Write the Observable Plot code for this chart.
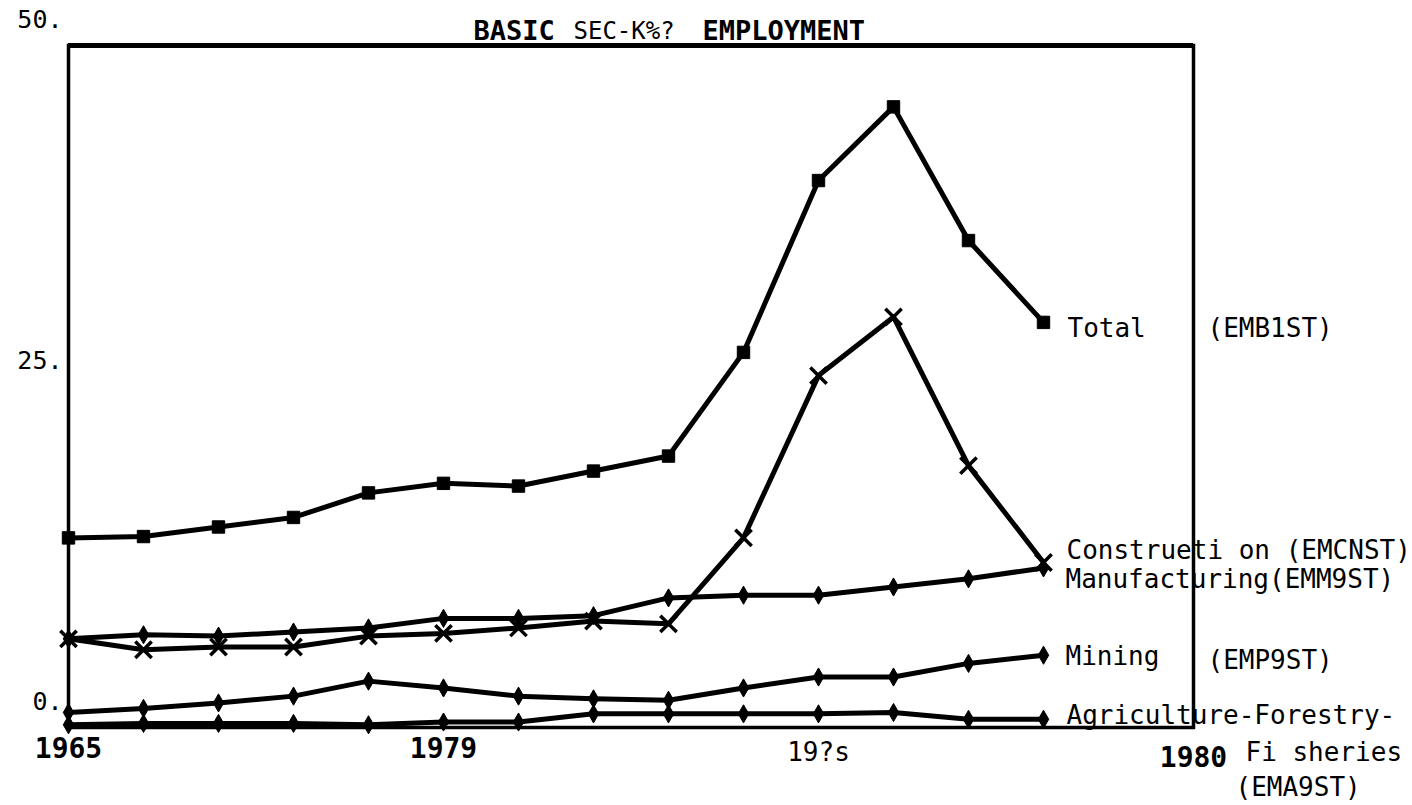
<!DOCTYPE html>
<html><head><meta charset="utf-8">
<script src="https://cdn.jsdelivr.net/npm/d3@7"></script>
<script src="https://cdn.jsdelivr.net/npm/@observablehq/plot@0.6"></script>
<style>
html,body{margin:0;padding:0;background:#fff;}
svg text{white-space:pre;}
</style></head><body><div id="chart"></div>
<script>
// period index along the x axis (14 plotted periods)
const periods = [0,1,2,3,4,5,6,7,8,9,10,11,12,13];

// series values (employment, thousands)
const total         = [13.9, 14.0, 14.7, 15.4, 17.2, 17.9, 17.7, 18.8, 19.9, 27.5, 40.1, 45.5, 35.7, 29.7];
const construction  = [6.5, 5.7, 5.9, 5.9, 6.7, 6.9, 7.3, 7.8, 7.6, 13.9, 25.8, 30.1, 19.2, 12.1];
const manufacturing = [6.5, 6.8, 6.7, 7.0, 7.3, 8.0, 8.0, 8.2, 9.5, 9.7, 9.7, 10.3, 10.9, 11.7];
const mining        = [1.1, 1.4, 1.8, 2.3, 3.4, 2.9, 2.3, 2.1, 2.0, 2.9, 3.7, 3.7, 4.7, 5.3];
const agriculture   = [0.2, 0.3, 0.3, 0.3, 0.2, 0.4, 0.4, 1.0, 1.0, 1.0, 1.0, 1.1, 0.6, 0.6];

// tick labels
const xTickPos    = [0, 5, 10, 15];
const xTickLabels = ["1965", "1979", "19?s", "1980"];
const yTickPos    = [0, 25, 50];
const yTickLabels = ["0.", "25.", "50."];

const titleParts = ["BASIC", "SEC-K%?", "EMPLOYMENT"];

const seriesKeys = ["Total", "Construction", "Manufacturing", "Mining", "Agriculture"];
const seriesVals = [total, construction, manufacturing, mining, agriculture];
const seriesSymbols = ["square", "times", "diamond", "diamond", "diamond"];

const rows = [];
seriesKeys.forEach((k, si) => periods.forEach((p, j) => rows.push({s: k, i: p, v: seriesVals[si][j]})));
const last = k => rows.filter(d => d.s === k && d.i === periods[periods.length - 1]);

const mono = "DejaVu Sans Mono";
const lab = (k, text, dx, dy) => Plot.text(last(k), {
  x: "i", y: "v", text: () => text, dx, dy, textAnchor: "start",
  fontFamily: mono, fontSize: 26, fill: "black"
});
const xlab = (idx, dy, bold, size) => Plot.text([xTickPos[idx]], {
  x: d => d, text: () => xTickLabels[idx], frameAnchor: "bottom", lineAnchor: "middle",
  dy, fontFamily: mono, fontWeight: bold ? "bold" : "normal", fontSize: size, fill: "black"
});
const tlab = (idx, dx, bold, size) => Plot.text([titleParts[idx]], {
  text: d => d, frameAnchor: "top-left", lineAnchor: "middle", textAnchor: "start",
  dx, dy: -14, fontFamily: mono, fontWeight: bold ? "bold" : "normal", fontSize: size, fill: "black"
});

const chart = Plot.plot({
  width: 1412, height: 805,
  marginLeft: 68, marginRight: 219, marginTop: 45, marginBottom: 78,
  x: {domain: [0, 15], axis: null},
  y: {domain: [0, 50], axis: null},
  style: {background: "white", color: "black"},
  marks: [
    Plot.frame({stroke: "black", strokeWidth: 3.5}),
    Plot.ruleY([50], {stroke: "black", strokeWidth: 5}),
    Plot.line(rows, {x: "i", y: "v", z: "s", stroke: "black", strokeWidth: 5}),
    ...seriesKeys.map((k, si) => {
      const sym = seriesSymbols[si];
      const data = rows.filter(d => d.s === k);
      return sym === "times"
        ? Plot.dot(data, {x: "i", y: "v", symbol: sym, r: 7.5, stroke: "black", strokeWidth: 3.5})
        : Plot.dot(data, {x: "i", y: "v", symbol: sym, r: sym === "square" ? 7 : 5.5, fill: "black", stroke: "black", strokeWidth: 1});
    }),
    // series labels
    lab("Total", "Total", 24, 6),
    lab("Total", "(EMB1ST)", 164, 6),
    lab("Construction", "Construeti on (EMCNST)", 23, -12),
    lab("Manufacturing", "Manufacturing(EMM9ST)", 22, 12),
    lab("Mining", "Mining", 22, 1),
    lab("Mining", "(EMP9ST)", 164, 5),
    lab("Agriculture", "Agriculture-Forestry-", 23, -4),
    lab("Agriculture", "Fi sheries", 202, 33),
    lab("Agriculture", "(EMA9ST)", 192, 68),
    // y tick labels
    Plot.text(yTickPos, {y: d => d, text: (d, i) => yTickLabels[i], frameAnchor: "left",
      textAnchor: "end", dx: -6, dy: -26, fontFamily: mono, fontSize: 25, fill: "black"}),
    // x tick labels
    xlab(0, 22, true, 28),
    xlab(1, 22, true, 28),
    xlab(2, 25, false, 26),
    xlab(3, 31, true, 28),
    // title
    tlab(0, 405, true, 27),
    tlab(1, 505, false, 24),
    tlab(2, 634, true, 27)
  ]
});
document.getElementById("chart").appendChild(chart);
</script></body></html>
